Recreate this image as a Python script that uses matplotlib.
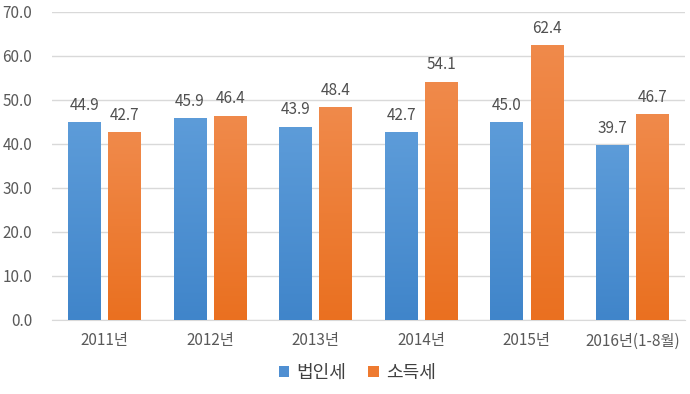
import numpy as np
import matplotlib
matplotlib.use('Agg')
import matplotlib.pyplot as plt
from matplotlib.colors import LinearSegmentedColormap

plt.rcParams['font.family'] = ['Noto Sans CJK KR', 'DejaVu Sans']

years = ['2011년', '2012년', '2013년', '2014년', '2015년', '2016년(1-8월)']
corp_tax = [44.9, 45.9, 43.9, 42.7, 45.0, 39.7]
income_tax = [42.7, 46.4, 48.4, 54.1, 62.4, 46.7]
series_names = ['법인세', '소득세']

blue_cm = LinearSegmentedColormap.from_list('b', ['#4085ca', '#5d9cd9'])
orange_cm = LinearSegmentedColormap.from_list('o', ['#ea7020', '#f08a4b'])

fig = plt.figure(figsize=(6.9, 3.94), dpi=100)
ax = fig.add_axes([0.075, 0.188, 0.918, 0.782])

x = np.arange(len(years))
w = 0.31
off = 0.19
b1 = ax.bar(x - off, corp_tax, w, color='#4f8fd2', label=series_names[0], zorder=3)
b2 = ax.bar(x + off, income_tax, w, color='#ee7a30', label=series_names[1], zorder=3)

# vertical gradient fill, lighter at the top
grad = np.linspace(0, 1, 256).reshape(-1, 1)
for bars, cm in ((b1, blue_cm), (b2, orange_cm)):
    for b in bars:
        x0, y0 = b.get_x(), b.get_y()
        im = ax.imshow(grad, cmap=cm, aspect='auto', origin='lower',
                       extent=[x0, x0 + b.get_width(), y0, y0 + b.get_height()],
                       zorder=3.5)
        im.set_clip_path(b)

for bars, vals in ((b1, corp_tax), (b2, income_tax)):
    for b, v in zip(bars, vals):
        ax.annotate(f'{v:.1f}', (b.get_x() + b.get_width() / 2, v),
                    xytext=(0, 6), textcoords='offset points',
                    ha='center', va='bottom', fontsize=11, color='#505050')

ax.set_xlim(-0.5, len(years) - 0.5)
ax.set_ylim(0, 70)
ax.set_yticks(np.arange(0, 71, 10))
ax.set_yticklabels([f'{t:.1f}' for t in np.arange(0, 71, 10)])
ax.set_xticks(x)
ax.set_xticklabels(years)
ax.tick_params(axis='both', length=0, labelsize=11, colors='#595959')
ax.tick_params(axis='x', pad=9)
ax.tick_params(axis='y', pad=14)
ax.grid(axis='y', color='#d9d9d9', linewidth=1, zorder=0)
for s in ['top', 'right', 'left']:
    ax.spines[s].set_visible(False)
ax.spines['bottom'].set_color('#d9d9d9')

fig.legend(loc='lower center', bbox_to_anchor=(0.518, -0.01), ncol=2, frameon=False,
           fontsize=13, handlelength=0.6, handleheight=0.6, handletextpad=0.4,
           columnspacing=1.2, labelcolor='#404040')

fig.savefig('out.png', dpi=100)
